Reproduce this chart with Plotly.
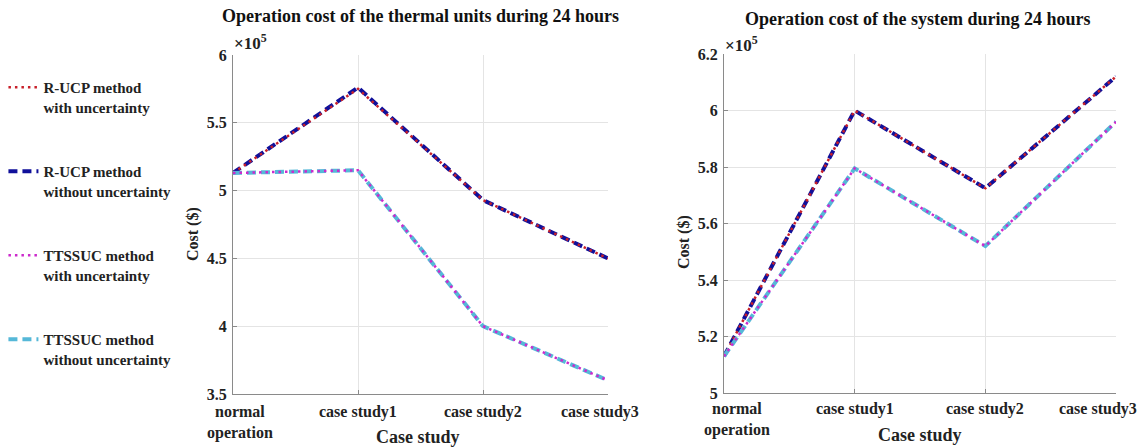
import plotly.graph_objects as go

categories = ["normal operation", "case study1", "case study2", "case study3"]
tick_labels = ["normal<br>operation", "case study1", "case study2", "case study3"]

# Values in units of 1e5 $
thermal_rucp_with = [5.13, 5.75, 4.93, 4.50]
thermal_rucp_without = [5.13, 5.76, 4.93, 4.50]
thermal_tts_with = [5.13, 5.15, 4.00, 3.60]
thermal_tts_without = [5.13, 5.15, 4.00, 3.60]

system_rucp_with = [5.13, 6.00, 5.725, 6.12]
system_rucp_without = [5.13, 6.00, 5.725, 6.12]
system_tts_with = [5.13, 5.795, 5.52, 5.96]
system_tts_without = [5.13, 5.795, 5.52, 5.96]

names = ["R-UCP method<br>with uncertainty",
         "R-UCP method<br>without uncertainty",
         "TTSSUC method<br>with uncertainty",
         "TTSSUC method<br>without uncertainty"]

FONT = "Liberation Serif"
RED = "#C8202A"
BLUE = "#10109A"
MAGENTA = "#CC2ACC"
LBLUE = "#55B8D8"

styles = {
    0: dict(color=RED, width=2.5, dash="2.5px,4px"),
    1: dict(color=BLUE, width=4, dash="9px,5px"),
    2: dict(color=MAGENTA, width=2.5, dash="2.5px,4px"),
    3: dict(color=LBLUE, width=4, dash="9px,5px"),
}

fig = go.Figure()

sets = [
    ("x", "y", [thermal_rucp_with, thermal_rucp_without, thermal_tts_with, thermal_tts_without]),
    ("x2", "y2", [system_rucp_with, system_rucp_without, system_tts_with, system_tts_without]),
]
# draw dashed first, dotted on top; legend order by legendrank
draw_order = [1, 0, 3, 2]
for si, (xa, ya, series) in enumerate(sets):
    for k in draw_order:
        fig.add_trace(go.Scatter(
            x=categories, y=series[k], mode="lines", name=names[k],
            line=styles[k], xaxis=xa, yaxis=ya,
            legendgroup="g%d" % k, showlegend=(si == 0), legendrank=k + 1,
        ))

W, H = 1144, 447
def px(v):
    return v / W
def py(v):
    return (H - v) / H

axis_font = dict(family=FONT, size=16, color="#222", weight="bold")
common_x = dict(type="category", range=[0, 3], showgrid=True, gridcolor="#E4E4E4",
                showline=True, linecolor="#8A8A8A", linewidth=1, ticks="inside",
                ticklen=4, tickcolor="#8A8A8A", showticklabels=False, zeroline=False)
common_y = dict(showgrid=True, gridcolor="#E4E4E4", showline=True, linecolor="#8A8A8A",
                linewidth=1, ticks="inside", ticklen=4, tickcolor="#8A8A8A",
                tickfont=axis_font, zeroline=False, ticklabelstandoff=2)

fig.update_layout(
    width=W, height=H,
    margin=dict(l=0, r=0, t=0, b=0, autoexpand=False),
    paper_bgcolor="white", plot_bgcolor="white",
    showlegend=True,
    legend=dict(x=0.003, y=py(71), xanchor="left", yanchor="top",
                font=dict(family=FONT, size=15, color="#222", weight="bold"),
                tracegroupgap=42, valign="top", bgcolor="rgba(0,0,0,0)",
                itemwidth=30),
    xaxis=dict(domain=[px(233), px(608)], anchor="y", **common_x),
    yaxis=dict(domain=[py(394), py(55)], anchor="x", range=[3.5, 6], dtick=0.5, **common_y),
    xaxis2=dict(domain=[px(724), px(1116)], anchor="y2", **common_x),
    yaxis2=dict(domain=[py(393), py(54)], anchor="x2", range=[5, 6.2], dtick=0.2, **common_y),
)

title_font = dict(family=FONT, size=18, color="#111", weight="bold")
lab_font = dict(family=FONT, size=18, color="#222", weight="bold")
cost_font = dict(family=FONT, size=16, color="#222", weight="bold")
exp_font = dict(family=FONT, size=17, color="#222", weight="bold")
ann = [
    dict(text="Operation cost of the thermal units during 24 hours", x=px(420), y=py(16),
         font=title_font),
    dict(text="Operation cost of the system during 24 hours", x=px(918), y=py(19),
         font=title_font),
    dict(text="Case study", x=px(418), y=py(437), font=lab_font),
    dict(text="Case study", x=px(920), y=py(435), font=lab_font),
    dict(text="Cost ($)", x=px(193), y=py(234), font=cost_font, textangle=-90),
    dict(text="Cost ($)", x=px(684), y=py(242), font=cost_font, textangle=-90),
    dict(text="×10<sup>5</sup>", x=px(232), y=py(42), xanchor="left", font=exp_font),
    dict(text="×10<sup>5</sup>", x=px(723), y=py(44), xanchor="left", font=exp_font),
]
for a in ann:
    a.setdefault("xanchor", "center")
    fig.add_annotation(xref="paper", yref="paper", showarrow=False, yanchor="middle", **a)

# x tick labels (placed at category positions, nudged like the reference)
left_shift = [7, 0, 0, -8]
right_shift = [13, 0, 0, -18]
for xa, shifts, ytop in (("x", left_shift, 401), ("x2", right_shift, 398)):
    for cat, lab, s in zip(categories, tick_labels, shifts):
        fig.add_annotation(x=cat, xref=xa, y=py(ytop), yref="paper", yanchor="top",
                           text=lab, showarrow=False, xshift=s, font=axis_font,
                           align="center")

fig.write_html("out.html")
